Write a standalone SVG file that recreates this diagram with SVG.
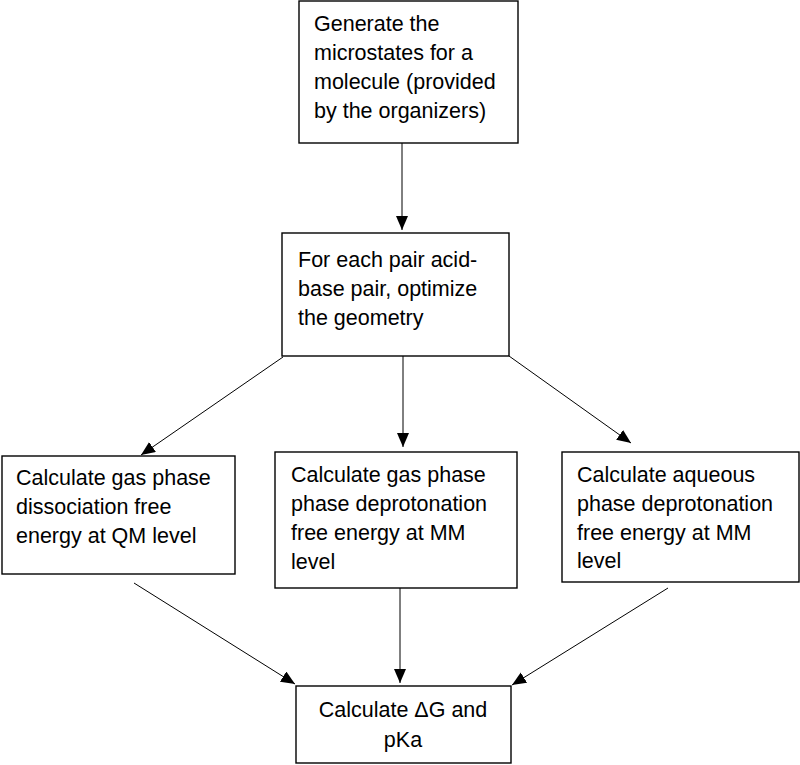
<svg xmlns="http://www.w3.org/2000/svg" width="800" height="765" viewBox="0 0 800 765">
<style>
  .box { fill: #ffffff; stroke: #000000; stroke-width: 1.4; }
  .lbl { font-family: "Liberation Sans", Arial, sans-serif; font-size: 21.5px; fill: #000000; }
  .edge { stroke: #000000; stroke-width: 1; fill: none; marker-end: url(#arr); }
</style>
<defs>
  <marker id="arr" markerUnits="userSpaceOnUse" markerWidth="16" markerHeight="14" refX="14" refY="6" orient="auto">
    <path d="M0,0 L14,6 L0,12 z" fill="#000000"/>
  </marker>
</defs>
<rect width="800" height="765" fill="#ffffff"/>
<g id="connectors">
  <line class="edge" x1="402" y1="143" x2="402" y2="230"/>
  <line class="edge" x1="283" y1="357" x2="141" y2="455"/>
  <line class="edge" x1="403" y1="356" x2="403" y2="447"/>
  <line class="edge" x1="509" y1="356" x2="631" y2="443"/>
  <line class="edge" x1="134" y1="583" x2="295" y2="684"/>
  <line class="edge" x1="400" y1="588" x2="400" y2="683"/>
  <line class="edge" x1="668" y1="588" x2="512" y2="685"/>
</g>
<g id="node-generate">
  <rect class="box" x="299" y="1" width="219" height="142"/>
  <text class="lbl"><tspan x="314" y="31">Generate the</tspan><tspan x="314" y="60">microstates for a</tspan><tspan x="314" y="89">molecule (provided</tspan><tspan x="314" y="118">by the organizers)</tspan></text>
</g>
<g id="node-optimize">
  <rect class="box" x="282" y="233" width="227" height="123"/>
  <text class="lbl"><tspan x="298" y="267">For each pair acid-</tspan><tspan x="298" y="296">base pair, optimize</tspan><tspan x="298" y="325">the geometry</tspan></text>
</g>
<g id="node-qm">
  <rect class="box" x="2" y="456" width="233" height="118"/>
  <text class="lbl"><tspan x="16" y="485">Calculate gas phase</tspan><tspan x="16" y="514">dissociation free</tspan><tspan x="16" y="543">energy at QM level</tspan></text>
</g>
<g id="node-gas-mm">
  <rect class="box" x="275" y="452" width="242" height="136"/>
  <text class="lbl"><tspan x="291" y="482">Calculate gas phase</tspan><tspan x="291" y="511">phase deprotonation</tspan><tspan x="291" y="540">free energy at MM</tspan><tspan x="291" y="569">level</tspan></text>
</g>
<g id="node-aq-mm">
  <rect class="box" x="562" y="452" width="237" height="130"/>
  <text class="lbl"><tspan x="577" y="482">Calculate aqueous</tspan><tspan x="577" y="511">phase deprotonation</tspan><tspan x="577" y="540">free energy at MM</tspan><tspan x="577" y="568">level</tspan></text>
</g>
<g id="node-pka">
  <rect class="box" x="296" y="686" width="215" height="77"/>
  <text class="lbl" text-anchor="middle"><tspan x="403" y="717">Calculate ΔG and</tspan><tspan x="403" y="747">pKa</tspan></text>
</g>
</svg>
